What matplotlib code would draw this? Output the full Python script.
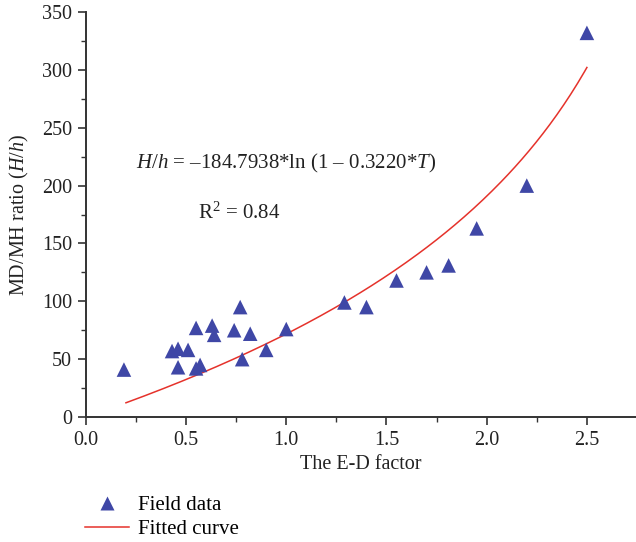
import numpy as np
import matplotlib
matplotlib.use("Agg")
import matplotlib.pyplot as plt
from matplotlib.lines import Line2D
from matplotlib.ticker import MultipleLocator

plt.rcParams['font.family'] = ['Liberation Serif', 'DejaVu Serif']
plt.rcParams['mathtext.fontset'] = 'custom'
plt.rcParams['mathtext.rm'] = 'Liberation Serif'
plt.rcParams['mathtext.it'] = 'Liberation Serif:italic'

# Field data (E-D factor, MD/MH ratio)
ed_factor = [0.19, 0.43, 0.46, 0.51, 0.46, 0.55, 0.57, 0.55, 0.63, 0.64,
             0.77, 0.74, 0.82, 0.78, 0.90, 1.00, 1.29, 1.40, 1.55, 1.70,
             1.81, 1.95, 2.20, 2.50]
md_mh_ratio = [41, 57, 59, 58, 43, 42, 45, 77, 79, 71,
               95, 75, 72, 50, 58, 76, 99, 95, 118, 125,
               131, 163, 200, 332]

# Fitted curve parameters
coef_a = 184.7938
coef_b = 0.3220
curve_t = np.linspace(0.2, 2.5, 200)
curve_h = -coef_a * np.log(1 - coef_b * curve_t)

fig = plt.figure(figsize=(6.36, 5.42), dpi=100)
ax = fig.add_axes([0.135, 0.2306, 0.865, 0.7472])

blue = '#3F47A6'
red = '#E5322B'
ax.plot(curve_t, curve_h, color=red, lw=1.1, zorder=2)
ax.scatter(ed_factor, md_mh_ratio, marker='^', s=110, color=blue,
           edgecolors='none', zorder=3)

ax.set_xlim(0, 2.745)
ax.set_ylim(0, 350)
ax.xaxis.set_major_locator(MultipleLocator(0.5))
ax.xaxis.set_minor_locator(MultipleLocator(0.25))
ax.yaxis.set_major_locator(MultipleLocator(50))
ax.yaxis.set_minor_locator(MultipleLocator(25))
ax.set_xticks([0, 0.5, 1.0, 1.5, 2.0, 2.5])
ax.set_xticklabels(['0.0', '0.5', '1.0', '1.5', '2.0', '2.5'])

for s in ['top', 'right']:
    ax.spines[s].set_visible(False)
for s in ['left', 'bottom']:
    ax.spines[s].set_color('#333333')
    ax.spines[s].set_linewidth(1.4)

ax.tick_params(which='major', direction='out', length=6, width=1.2,
               color='#333333', labelsize=14.5, labelcolor='#222222', pad=4)
ax.tick_params(which='minor', direction='out', length=3.5, width=1.0,
               color='#333333')

ax.set_xlabel('The E-D factor', fontsize=14.5, color='#222222', labelpad=4)
ax.set_ylabel(r'MD/MH ratio ($\mathit{H/h}$)', fontsize=14.5, color='#222222',
              labelpad=8)

ax.text(0.25, 219, r'$\mathit{H/h}$ = –184.7938*ln (1 – 0.3220*$\mathit{T}$)',
        fontsize=15, color='#222222', va='center', ha='left')
ax.text(0.56, 176, r'R$^2$ = 0.84', fontsize=15, color='#222222',
        va='center', ha='left')

handles = [Line2D([], [], marker='^', color=blue, ls='none', markersize=10.5,
                  markeredgecolor='none'),
           Line2D([], [], color=red, lw=1.1)]
fig.legend(handles, ['Field data', 'Fitted curve'], loc='upper left',
           bbox_to_anchor=(0.117, 0.105), frameon=False, fontsize=15,
           handlelength=2.1, handletextpad=0.45, labelspacing=0.2,
           borderpad=0)

fig.savefig('out.png', dpi=100)
